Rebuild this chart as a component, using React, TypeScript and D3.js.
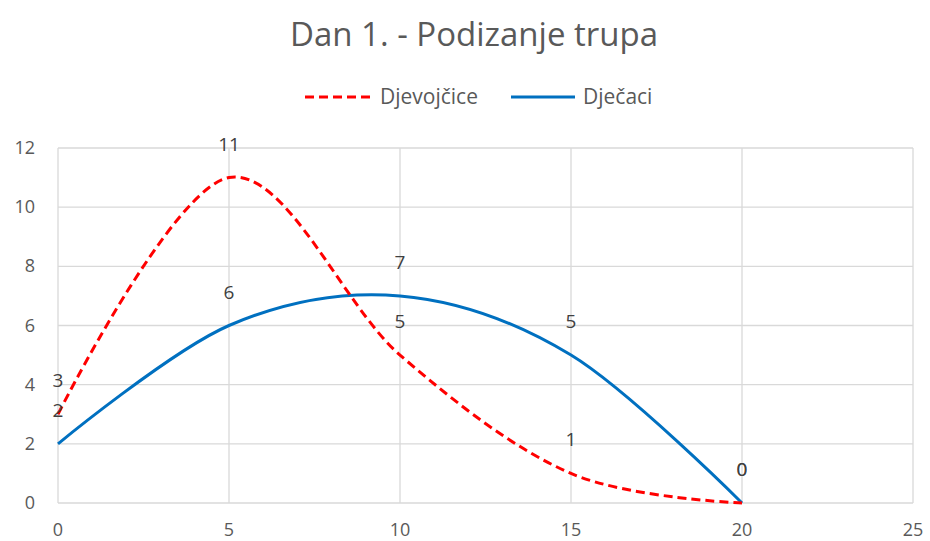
import * as d3 from "d3";
import { useEffect, useRef } from "react";

const xTicks = [0, 5, 10, 15, 20, 25];
const yTicks = [0, 2, 4, 6, 8, 10, 12];
const days = [0, 5, 10, 15, 20];
const girls = [3, 11, 5, 1, 0];
const boys = [2, 6, 7, 5, 0];
const seriesNames = ["Djevojčice", "Dječaci"];

const width = 930;
const height = 541;
const marginLeft = 58;
const marginRight = 17;
const marginTop = 148;
const marginBottom = 38;
const font = "'Open Sans', 'Noto Sans', sans-serif";

const App = () => {
    const ref = useRef<SVGSVGElement | null>(null);

    useEffect(() => {
        const svg = d3.select(ref.current);
        svg.selectAll("*").remove();

        const x = d3.scaleLinear().domain([0, 25]).range([marginLeft, width - marginRight]);
        const y = d3.scaleLinear().domain([0, 12]).range([height - marginBottom, marginTop]);

        svg.append("rect").attr("width", width).attr("height", height).attr("fill", "white");

        // grid
        svg.append("g")
            .selectAll("line")
            .data(yTicks)
            .join("line")
            .attr("x1", x(0)).attr("x2", x(25))
            .attr("y1", d => y(d)).attr("y2", d => y(d))
            .attr("stroke", "#d9d9d9").attr("stroke-width", 1.3);
        svg.append("g")
            .selectAll("line")
            .data(xTicks)
            .join("line")
            .attr("y1", y(0)).attr("y2", y(12))
            .attr("x1", d => x(d)).attr("x2", d => x(d))
            .attr("stroke", "#d9d9d9").attr("stroke-width", 1.3);

        // tick labels
        svg.append("g")
            .selectAll("text")
            .data(yTicks)
            .join("text")
            .attr("x", 35)
            .attr("y", d => y(d) + 6)
            .attr("text-anchor", "end")
            .attr("fill", "#595959")
            .style("font", `18px ${font}`)
            .text(d => d);
        svg.append("g")
            .selectAll("text")
            .data(xTicks)
            .join("text")
            .attr("x", d => x(d))
            .attr("y", y(0) + 33)
            .attr("text-anchor", "middle")
            .attr("fill", "#595959")
            .style("font", `18px ${font}`)
            .text(d => d);

        const line = d3.line<number>()
            .x((_, i) => x(days[i]))
            .y(d => y(d))
            .curve(d3.curveCardinal.tension(0));

        svg.append("path")
            .attr("d", line(boys))
            .attr("fill", "none")
            .attr("stroke", "#0070c0")
            .attr("stroke-width", 3);
        svg.append("path")
            .attr("d", line(girls))
            .attr("fill", "none")
            .attr("stroke", "#ff0000")
            .attr("stroke-width", 3)
            .attr("stroke-dasharray", "9 5");

        // data labels
        const addLabels = (values: number[]) => svg.append("g")
            .selectAll("text")
            .data(values)
            .join("text")
            .attr("x", (_, i) => x(days[i]))
            .attr("y", d => y(d) - 27)
            .attr("text-anchor", "middle")
            .attr("fill", "#404040")
            .style("font", `19px ${font}`)
            .text(d => d);
        addLabels(girls);
        addLabels(boys);

        // title
        svg.append("text")
            .attr("x", 474)
            .attr("y", 46)
            .attr("text-anchor", "middle")
            .attr("fill", "#595959")
            .style("font", `33px ${font}`)
            .text("Dan 1. - Podizanje trupa");

        // legend
        const legend = svg.append("g");
        legend.append("line")
            .attr("x1", 305).attr("x2", 373).attr("y1", 97).attr("y2", 97)
            .attr("stroke", "#ff0000").attr("stroke-width", 3).attr("stroke-dasharray", "9 5");
        legend.append("text")
            .attr("x", 380).attr("y", 104)
            .attr("fill", "#595959")
            .style("font", `21px ${font}`)
            .text(seriesNames[0]);
        legend.append("line")
            .attr("x1", 511).attr("x2", 575).attr("y1", 97).attr("y2", 97)
            .attr("stroke", "#0070c0").attr("stroke-width", 3);
        legend.append("text")
            .attr("x", 583).attr("y", 104)
            .attr("fill", "#595959")
            .style("font", `21px ${font}`)
            .text(seriesNames[1]);
    }, []);

    return <svg ref={ref} width={width} height={height}
        style={{ position: "absolute", left: 0, top: 0 }} />;
};

export default App;
